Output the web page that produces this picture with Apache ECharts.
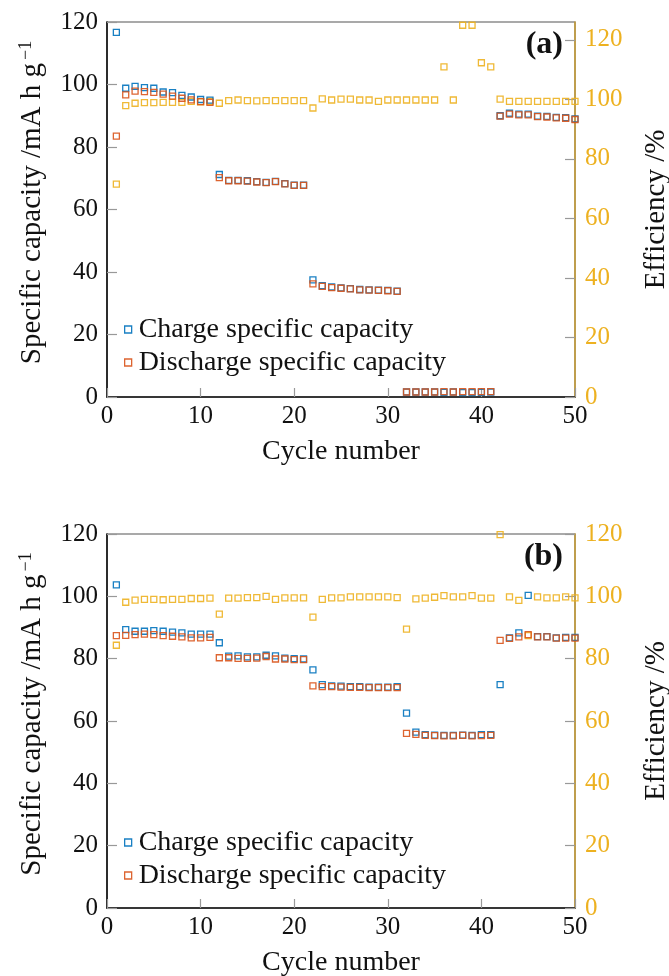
<!DOCTYPE html>
<html>
<head>
<meta charset="utf-8">
<script src="https://cdn.jsdelivr.net/npm/echarts@6/dist/echarts.min.js"></script>
<style>html,body{margin:0;padding:0;background:#fff}#c{width:669px;height:976px}</style>
</head>
<body>
<div id="c"></div>
<script>
const cycles = [1,2,3,4,5,6,7,8,9,10,11,12,13,14,15,16,17,18,19,20,21,22,23,24,25,26,27,28,29,30,31,32,33,34,35,36,37,38,39,40,41,42,43,44,45,46,47,48,49,50];

const chargeA = [116.7,98.8,99.4,99.0,98.8,97.6,97.4,96.5,96.0,95.2,95.0,71.2,69.3,69.3,69.2,68.9,68.7,69.0,68.3,67.8,67.8,37.5,35.6,35.2,34.9,34.7,34.4,34.3,34.2,34.1,33.9,1.6,1.6,1.6,1.6,1.5,1.6,1.4,1.4,1.5,1.6,90.0,90.8,90.5,90.5,89.9,89.8,89.5,89.4,89.0];
const dischargeA = [83.5,96.7,97.9,97.7,97.5,96.9,96.3,95.6,95.1,94.5,94.3,70.2,69.2,69.2,69.1,68.8,68.6,68.9,68.2,67.7,67.7,36.2,35.4,35.0,34.8,34.6,34.3,34.2,34.1,34.0,33.8,1.6,1.6,1.6,1.6,1.7,1.6,1.7,1.7,1.7,1.7,89.9,90.5,90.3,90.3,89.7,89.6,89.3,89.2,88.8];
const effA = [71.5,97.9,98.7,98.9,98.9,99.0,99.0,99.0,99.3,99.2,99.3,98.7,99.6,99.8,99.6,99.5,99.6,99.6,99.6,99.6,99.6,97.1,100.2,99.8,100.1,100.1,99.8,99.8,99.3,99.8,99.8,99.8,99.8,99.8,99.8,110.9,99.8,124.9,124.9,112.3,110.9,100.1,99.3,99.3,99.3,99.3,99.3,99.3,99.3,99.3];

const chargeB = [103.7,89.3,88.8,88.8,89.0,88.8,88.5,88.3,87.9,87.9,87.9,85.1,80.8,80.9,80.6,80.6,81.1,80.9,80.2,80.0,79.9,76.4,71.7,71.3,71.2,71.0,71.0,70.9,70.9,70.9,71.0,62.5,56.4,55.6,55.5,55.4,55.4,55.5,55.4,55.6,55.6,71.7,86.7,88.3,100.3,87.1,87.1,86.7,86.8,86.8];
const dischargeB = [87.4,87.5,87.7,87.9,87.7,87.4,87.2,87.0,86.7,86.7,86.8,80.3,80.3,80.1,80.1,80.2,80.7,79.9,79.9,79.7,79.7,71.3,71.0,71.0,70.9,70.8,70.8,70.7,70.7,70.7,70.7,56.0,55.7,55.4,55.3,55.2,55.2,55.4,55.2,55.3,55.4,85.9,86.5,87.0,87.7,87.0,87.0,86.6,86.6,86.6];
const effB = [84.3,98.1,98.8,99.0,99.0,98.9,99.0,99.0,99.3,99.3,99.4,94.3,99.4,99.4,99.6,99.6,100.0,99.0,99.5,99.5,99.5,93.3,99.0,99.5,99.5,99.8,99.8,99.8,99.8,99.8,99.6,89.5,99.2,99.4,99.7,100.2,99.8,99.8,100.2,99.4,99.4,119.8,99.8,98.7,87.4,99.8,99.5,99.5,99.8,99.5];

const xTicks = [0,10,20,30,40,50];
const leftTicks = [0,20,40,60,80,100,120];
const rightTicks = [0,20,40,60,80,100,120];

const FONT = '"Liberation Serif", "DejaVu Serif", serif';
const BLUE = '#0072BD', RED = '#D95319', YEL = '#EDB120', GOLD = '#C9A03C';
const NAME_C = 'Charge specific capacity', NAME_D = 'Discharge specific capacity';

const pairs = (ys) => cycles.map((c, i) => [c, ys[i]]);

function xAxisFor(gi) {
  return {
    gridIndex: gi, type: 'value', min: 0, max: 50, interval: 10,
    axisLine: {show: true, onZero: false, lineStyle: {color: '#111', width: 1.6}},
    axisTick: {inside: true, length: 9, lineStyle: {color: '#999', width: 1.2}, customValues: xTicks},
    axisLabel: {fontFamily: FONT, fontSize: 25, color: '#111', margin: 7, customValues: xTicks},
    splitLine: {show: false},
    name: 'Cycle number', nameLocation: 'middle', nameGap: 41,
    nameTextStyle: {fontFamily: FONT, fontSize: 28, color: '#111'}
  };
}
function leftAxisFor(gi) {
  return {
    gridIndex: gi, type: 'value', min: 0, max: 120, interval: 20, position: 'left',
    axisLine: {show: true, onZero: false, lineStyle: {color: '#111', width: 1.6}},
    axisTick: {inside: true, length: 10, lineStyle: {color: '#999', width: 1.2}, customValues: leftTicks},
    axisLabel: {fontFamily: FONT, fontSize: 25, color: '#111', margin: 9, customValues: leftTicks},
    splitLine: {show: false},
    name: 'Specific capacity /mA h g{sup|−1}', nameLocation: 'middle', nameGap: 60,
    nameTextStyle: {fontFamily: FONT, fontSize: 29, color: '#111', padding: [0, 0, 0, 14],
      rich: {sup: {fontFamily: FONT, fontSize: 18, color: '#111', verticalAlign: 'top', padding: [0, 0, 12, 3]}}}
  };
}
function rightAxisFor(gi, maxV) {
  return {
    gridIndex: gi, type: 'value', min: 0, max: maxV, position: 'right',
    axisLine: {show: true, onZero: false, lineStyle: {color: GOLD, width: 1.6}},
    axisTick: {inside: true, length: 10, lineStyle: {color: '#999', width: 1.2}, customValues: rightTicks},
    axisLabel: {fontFamily: FONT, fontSize: 25, color: YEL, margin: 10, customValues: rightTicks},
    splitLine: {show: false},
    name: 'Efficiency /%', nameLocation: 'middle', nameGap: 67, nameRotate: 90,
    nameTextStyle: {fontFamily: FONT, fontSize: 29, color: '#111'}
  };
}
function sc(name, xi, yi, data, color, z) {
  return {
    name: name, type: 'scatter', xAxisIndex: xi, yAxisIndex: yi, data: pairs(data),
    symbol: 'rect', symbolSize: 6, clip: false, z: z,
    itemStyle: {color: 'rgba(255,255,255,0)', borderColor: color, borderWidth: 1.3, opacity: 0.9},
    emphasis: {disabled: true}, silent: true
  };
}
function legendFor(top) {
  return {
    orient: 'vertical', left: 124, top: top, itemWidth: 7, itemHeight: 7, itemGap: 4, padding: 0,
    icon: 'rect', selectedMode: false,
    textStyle: {fontFamily: FONT, fontSize: 28, lineHeight: 29, color: '#111', padding: [0, 0, 0, 2]},
    data: [
      {name: NAME_C, itemStyle: {color: 'rgba(255,255,255,0)', borderColor: BLUE, borderWidth: 1.3}},
      {name: NAME_D, itemStyle: {color: 'rgba(255,255,255,0)', borderColor: RED, borderWidth: 1.3}}
    ]
  };
}

const chart = echarts.init(document.getElementById('c'), null, {renderer: 'canvas'});
chart.setOption({
  animation: false,
  backgroundColor: '#fff',
  grid: [
    {left: 107, width: 468, top: 22, height: 375, show: true, borderColor: '#555', borderWidth: 1.2, backgroundColor: 'transparent', containLabel: false, outerBoundsMode: 'none'},
    {left: 107, width: 468, top: 534, height: 374, show: true, borderColor: '#555', borderWidth: 1.2, backgroundColor: 'transparent', containLabel: false, outerBoundsMode: 'none'}
  ],
  xAxis: [xAxisFor(0), xAxisFor(1)],
  yAxis: [leftAxisFor(0), rightAxisFor(0, 126), leftAxisFor(1), rightAxisFor(1, 120)],
  legend: [legendFor(315), legendFor(828)],
  graphic: [
    {type: 'text', right: 106, top: 29, style: {text: '(a)', font: 'bold 32px ' + FONT, fill: '#111'}},
    {type: 'text', right: 106, top: 541, style: {text: '(b)', font: 'bold 32px ' + FONT, fill: '#111'}}
  ],
  series: [
    sc('Efficiency', 0, 1, effA, YEL, 2),
    sc(NAME_C, 0, 0, chargeA, BLUE, 3),
    sc(NAME_D, 0, 0, dischargeA, RED, 4),
    sc('Efficiency', 1, 3, effB, YEL, 2),
    sc(NAME_C, 1, 2, chargeB, BLUE, 3),
    sc(NAME_D, 1, 2, dischargeB, RED, 4)
  ]
});
</script>
</body>
</html>
